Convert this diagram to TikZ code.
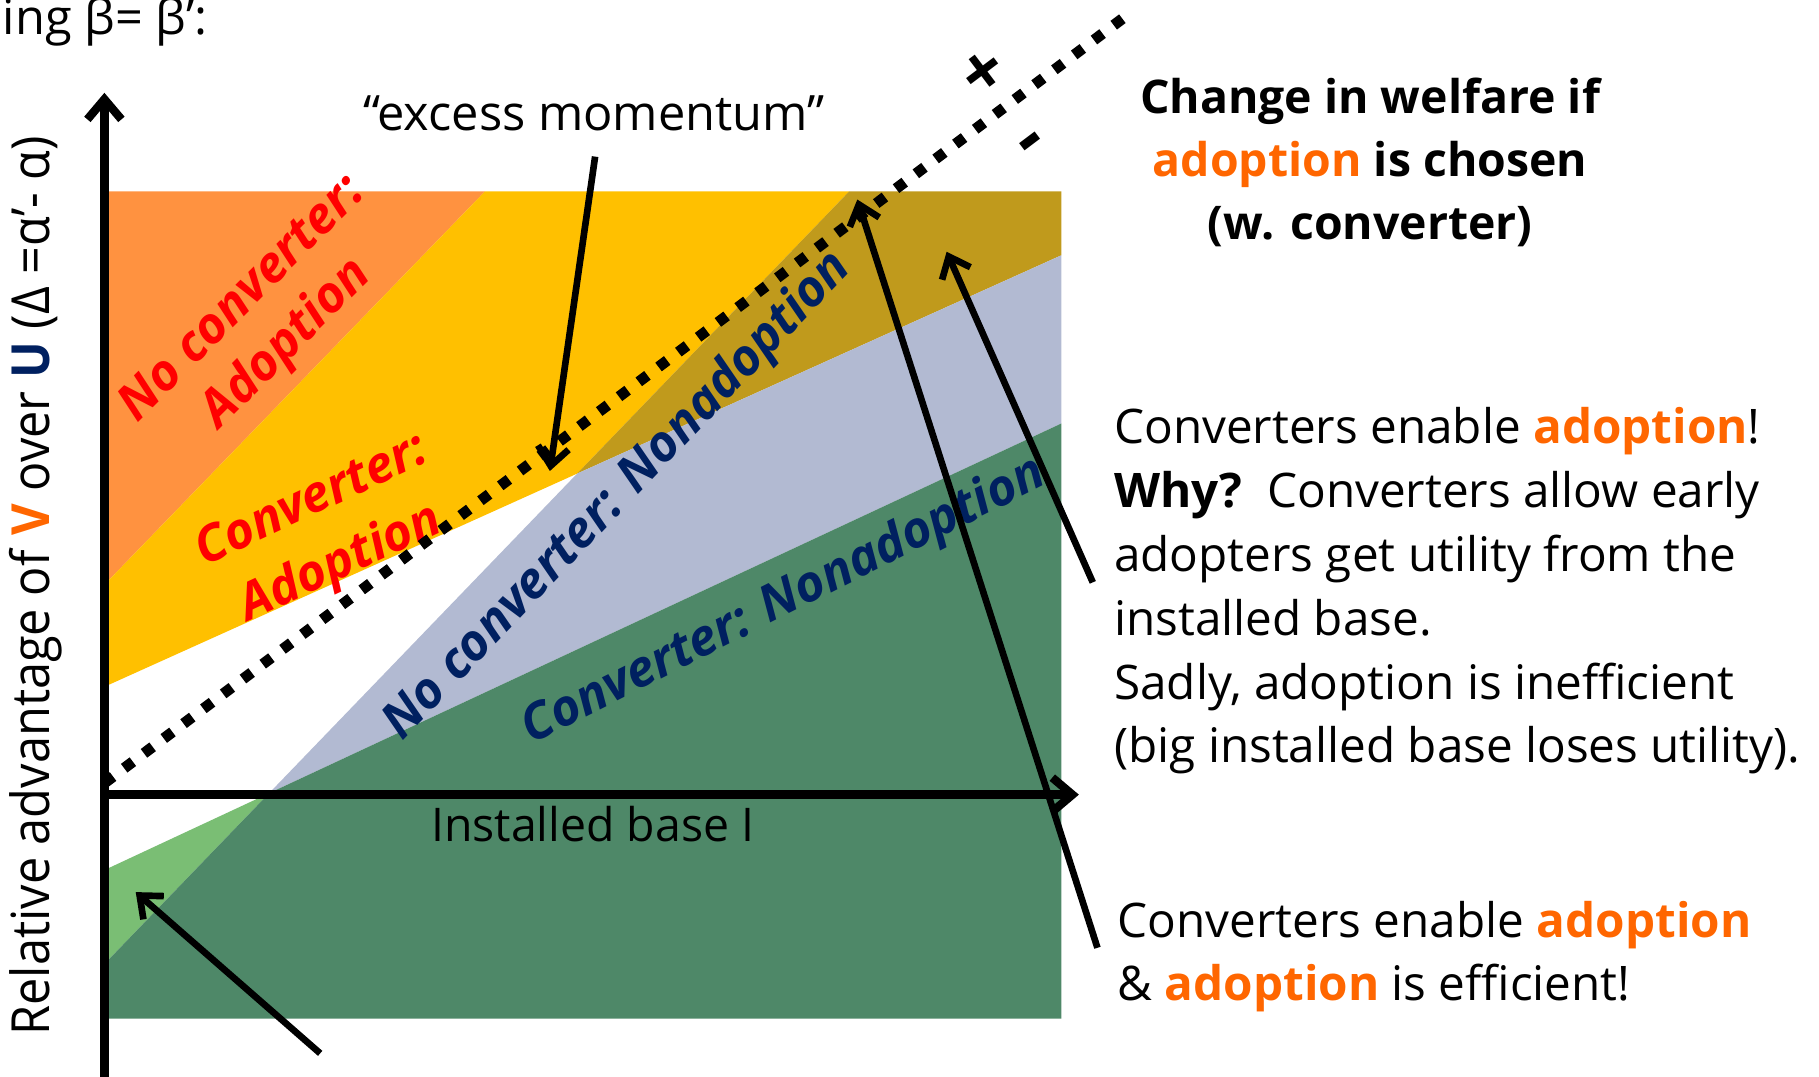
\documentclass[tikz,border=0pt]{standalone}
\usepackage{fontspec}
\setmainfont{Open Sans}
\newfontfamily\narrowsans[FakeStretch=0.925]{Open Sans}
\usetikzlibrary{arrows.meta}

\definecolor{orangeReg}{RGB}{255,146,64}
\definecolor{yellowReg}{RGB}{255,192,0}
\definecolor{brownReg}{RGB}{192,154,28}
\definecolor{blueReg}{RGB}{178,186,210}
\definecolor{lightgreenReg}{RGB}{122,190,116}
\definecolor{darkgreenReg}{RGB}{78,136,104}
\definecolor{navyTxt}{RGB}{0,32,96}
\definecolor{orangeTxt}{RGB}{255,102,0}

\newcommand{\adopt}{\textbf{\textcolor{orangeTxt}{adoption}}}

\tikzset{every picture/.style={line width=0.75pt}}
\tikzset{
  axisline/.style={line width=5.4pt,-{Straight Barb[length=13pt,width=22pt]}},
  pointer/.style={line width=4.3pt,-{Straight Barb[length=12pt,width=20pt]}},
  dotline/.style={line width=7pt,dash pattern=on 7pt off 9pt},
  regionlabel/.style={font=\fontsize{32.5}{40.5}\selectfont\bfseries\itshape,align=center,inner sep=0pt},
  bodytext/.style={font=\fontsize{30.8}{41.25}\selectfont,align=left,inner sep=0pt},
}

\begin{document}
\begin{tikzpicture}[x=0.75pt,y=0.75pt,yscale=-1,xscale=1]
\path[use as bounding box] (0,0) rectangle (1568,928);

%Boundary lines of the regions
\coordinate (ol) at (90,504);   \coordinate (ot) at (418,165);
\coordinate (yl) at (90,592);   \coordinate (yr) at (915,220);
\coordinate (bl) at (90,831);   \coordinate (bt) at (732,165);
\coordinate (gl) at (90,750);   \coordinate (gr) at (915,365);
\coordinate (yb) at (intersection of yl--yr and bl--bt);
\coordinate (gb) at (intersection of gl--gr and bl--bt);

%Shape: Polygon (no converter: adoption)
\fill [orangeReg] (90,165) -- (ot) -- (ol) -- cycle ;
%Shape: Polygon (converter: adoption)
\fill [yellowReg] (ot) -- (bt) -- (yb) -- (yl) -- (ol) -- cycle ;
%Shape: Polygon (overlap)
\fill [brownReg] (bt) -- (915,165) -- (yr) -- (yb) -- cycle ;
%Shape: Polygon (no converter: nonadoption)
\fill [blueReg] (yb) -- (yr) -- (gr) -- (gb) -- cycle ;
%Shape: Polygon (small green wedge)
\fill [lightgreenReg] (gl) -- (gb) -- (bl) -- cycle ;
%Shape: Polygon (converter: nonadoption)
\fill [darkgreenReg] (gb) -- (gr) -- (915,878) -- (90,878) -- (bl) -- cycle ;

%Axes
\coordinate (ybot) at (90,940);  \coordinate (ytop) at (90,80);
\coordinate (xleft) at (88,685); \coordinate (xright) at (930,685);
\draw [axisline] (ybot) -- (ytop) ;
\draw [axisline] (xleft) -- (xright) ;

% Region labels
\draw (229,278) node [regionlabel,red,rotate=45] (noconvAdopt) {No converter:\\Adoption};
\draw (282,460) node [regionlabel,red,rotate=25,font=\fontsize{32.5}{44.7}\selectfont\bfseries\itshape] (convAdopt) {Converter:\\Adoption};
\draw (533,428) node [regionlabel,navyTxt,rotate=46.4] (noconvNon) {No converter: Nonadoption};
\draw (676,519) node [regionlabel,navyTxt,rotate=26.8] (convNon) {Converter: Nonadoption};

%Dotted line (welfare change = 0)
\coordinate (dotA) at (90,675); \coordinate (dotB) at (969,15);
\draw [dotline] (dotA) -- (dotB) ;
\draw (849,64) node [rotate=37,inner sep=0pt,font=\fontsize{46}{46}\selectfont\bfseries] (plus) {+};
\draw (892,127) node [rotate=37,inner sep=0pt,font=\fontsize{48}{48}\selectfont\bfseries] (minus) {-};

% Text Node
\draw (2,19) node [anchor=west][inner sep=0pt,font=\fontsize{31.5}{31.5}\selectfont] (assume) {ing β= β’:};
% Text Node
\draw (512,98) node [inner sep=0pt,font=\fontsize{31.5}{31.5}\selectfont] (excess) {“excess momentum”};
% Text Node
\draw (511,710) node [inner sep=0pt,font=\fontsize{30}{30}\selectfont] (ibase) {Installed base I};
% Text Node
\draw (31,505) node [rotate=90,inner sep=0pt,font=\fontsize{34}{34}\narrowsans] (ylabel) {Relative advantage of \textbf{\textcolor{orangeTxt}{V}} over \textbf{\textcolor{navyTxt}{U}} (Δ =α’- α)};
% Text Node
\draw (1181,140) node [align=center,inner sep=0pt,font=\fontsize{30}{40.5}\selectfont\bfseries] (welfare) {Change in welfare if\\\textcolor{orangeTxt}{adoption} is chosen\\(w. converter)};
% Text Node
\draw (960,351) node [anchor=north west,bodytext] (why) {Converters enable \adopt!\\\textbf{Why?}\ \ Converters allow early\\adopters get utility from the\\installed base.\\Sadly, adoption is inefficient\\(big installed base loses utility).};
% Text Node
\draw (963,776) node [anchor=north west,bodytext] (efficient) {Converters enable \adopt\\\& \adopt{} is efficient!};

%Pointer arrows
\coordinate (emTail) at (513,135); \coordinate (emTip) at (474,406);
\coordinate (brTail) at (942,502); \coordinate (brTip) at (816,217);
\coordinate (lgTail) at (946,817); \coordinate (lgTip) at (739,172);
\coordinate (grTail) at (276,908); \coordinate (grTip) at (117,769);
\draw [pointer] (emTail) -- (emTip) ;
\draw [pointer] (brTail) -- (brTip) ;
\draw [pointer] (lgTail) -- (lgTip) ;
\draw [pointer] (grTail) -- (grTip) ;

\end{tikzpicture}
\end{document}
